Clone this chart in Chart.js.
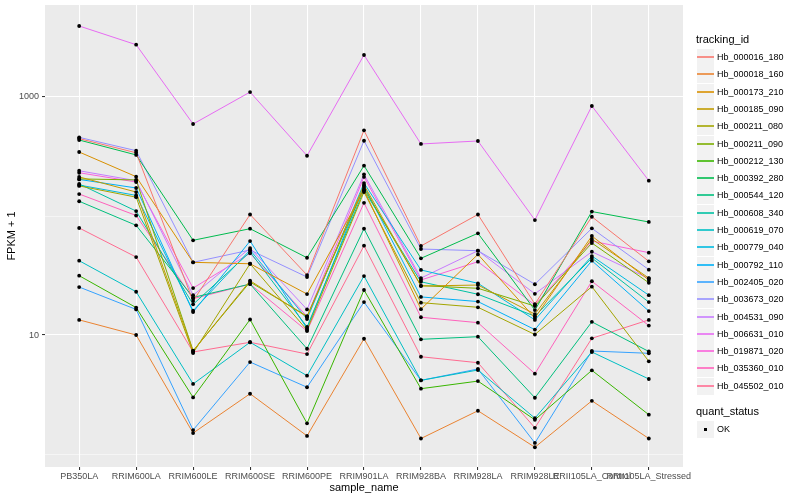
<!DOCTYPE html>
<html><head><meta charset="utf-8">
<script src="https://cdn.jsdelivr.net/npm/chart.js@4"></script>
<style>
html,body{margin:0;padding:0;background:#fff;}
#wrap{position:relative;width:800px;height:500px;font-family:"Liberation Sans",Arial,sans-serif;overflow:hidden;}
#c{position:absolute;left:0;top:0;}
.lt{position:absolute;left:696px;font-size:11px;color:#000;line-height:13px;white-space:nowrap;}
.key{position:absolute;left:697px;width:17px;height:17px;background:#F2F2F2;}
.key i{position:absolute;left:0px;right:0px;top:7px;height:2px;display:block;opacity:0.8;}
.key b{position:absolute;left:7px;top:7px;width:3px;height:3px;background:#000;display:block;}
.lab{position:absolute;left:717px;font-size:9px;color:#000;line-height:17px;height:17px;white-space:nowrap;}
</style>
</head><body>
<div id="wrap"><canvas id="c" width="800" height="500"></canvas><div id="legend"></div></div>
<script>
const categories = ['PB350LA','RRIM600LA','RRIM600LE','RRIM600SE','RRIM600PE','RRIM901LA','RRIM928BA','RRIM928LA','RRIM928LE','RRII105LA_Control','RRII105LA_Stressed'];

const Hb_000016_180 = [447, 340, 19.3, 103, 31.9, 525, 56, 103, 18.2, 98.6, 41.6];
const Hb_000018_160 = [13.4, 10.0, 1.50, 3.21, 1.42, 9.3, 1.35, 2.31, 1.14, 2.80, 1.35];
const Hb_000173_210 = [345, 214, 40.8, 39.7, 22.1, 165, 16.5, 47.6, 13.9, 67.9, 29.0];
const Hb_000185_090 = [213, 159, 7.34, 28.6, 14.2, 182, 25.8, 26.3, 15.0, 64.1, 30.1];
const Hb_000211_080 = [179, 144, 7.06, 39.7, 11.0, 159, 18.7, 17.1, 10.1, 25.5, 6.01];
const Hb_000211_090 = [205, 201, 7.38, 27.9, 14.4, 172, 26.0, 24.7, 17.5, 59.3, 27.5];
const Hb_000212_130 = [31.5, 17.0, 2.99, 13.5, 1.81, 23.9, 3.54, 4.10, 1.94, 5.05, 2.14];
const Hb_000392_280 = [435, 326, 62.5, 78.2, 44.6, 265, 44.1, 71.6, 16.2, 109, 89.1];
const Hb_000544_120 = [133, 83.5, 20.7, 26.8, 7.67, 78.2, 9.20, 9.68, 2.97, 12.9, 7.27];
const Hb_000608_340 = [186, 110, 18.1, 49.8, 11.7, 165, 28.0, 22.0, 14.4, 44.4, 18.9];
const Hb_000619_070 = [42.1, 23.1, 3.88, 8.69, 4.55, 31.3, 4.16, 5.08, 2.0, 7.20, 4.27];
const Hb_000779_040 = [182, 149, 16.0, 51.8, 13.6, 189, 35.2, 27.2, 13.4, 46.1, 21.6];
const Hb_000792_110 = [203, 172, 15.6, 61.6, 11.3, 179, 20.9, 19.1, 11.1, 42.1, 15.9];
const Hb_002405_020 = [25.3, 16.4, 1.59, 5.93, 3.64, 18.9, 4.16, 5.18, 1.24, 7.34, 7.02];
const Hb_003673_020 = [458, 354, 40.8, 51.8, 30.7, 429, 52.8, 51.1, 26.7, 78.8, 35.4];
const Hb_004531_090 = [240, 198, 21.6, 53.8, 16.4, 224, 30.1, 51.1, 22.2, 50.1, 29.9];
const Hb_006631_010 = [3950, 2750, 593, 1100, 321, 2254, 403, 427, 92.5, 840, 198];
const Hb_019871_020 = [231, 193, 24.8, 48.6, 14.3, 213, 29.0, 41.3, 17.9, 61.6, 49.2];
const Hb_035360_010 = [153, 101, 20.2, 26.8, 10.8, 129, 14.1, 12.7, 4.73, 28.3, 12.0];
const Hb_045502_010 = [79.3, 45.2, 7.20, 8.69, 6.92, 56.3, 6.57, 5.85, 1.66, 9.38, 13.4];

const seriesNames = ['Hb_000016_180','Hb_000018_160','Hb_000173_210','Hb_000185_090','Hb_000211_080','Hb_000211_090','Hb_000212_130','Hb_000392_280','Hb_000544_120','Hb_000608_340','Hb_000619_070','Hb_000779_040','Hb_000792_110','Hb_002405_020','Hb_003673_020','Hb_004531_090','Hb_006631_010','Hb_019871_020','Hb_035360_010','Hb_045502_010'];
const seriesValues = [Hb_000016_180,Hb_000018_160,Hb_000173_210,Hb_000185_090,Hb_000211_080,Hb_000211_090,Hb_000212_130,Hb_000392_280,Hb_000544_120,Hb_000608_340,Hb_000619_070,Hb_000779_040,Hb_000792_110,Hb_002405_020,Hb_003673_020,Hb_004531_090,Hb_006631_010,Hb_019871_020,Hb_035360_010,Hb_045502_010];
const seriesColors = ['#F8766D','#EA8331','#D89000','#C09B00','#A3A500','#7CAE00','#39B600','#00BB4E','#00BF7D','#00C1A3','#00BFC4','#00BAE0','#00B0F6','#35A2FF','#9590FF','#C77CFF','#E76BF3','#FA62DB','#FF62BC','#FF6C91'];

const yMajorTicks = [10, 1000];
const yMinorTicks = [1, 100];
const quantStatus = ['OK'];

const FONT = '"Liberation Sans", Arial, sans-serif';

const toPoints = vals => vals.map((v, i) => ({x: i, y: v}));

const lineSets = seriesValues.map((vals, k) => ({
  label: seriesNames[k],
  data: toPoints(vals),
  borderColor: seriesColors[k],
  backgroundColor: seriesColors[k],
  borderWidth: 1,
  pointRadius: 0,
  pointHoverRadius: 0,
  tension: 0,
  fill: false,
  order: 1
}));
const pointSets = seriesValues.map((vals, k) => ({
  label: seriesNames[k] + ' ' + quantStatus[0],
  data: toPoints(vals),
  showLine: false,
  pointRadius: 1.9,
  pointStyle: 'circle',
  pointBackgroundColor: '#000000',
  pointBorderColor: '#000000',
  pointBorderWidth: 0,
  order: 0
}));

const panelBg = {
  id: 'panelBg',
  beforeDraw(chart) {
    const {ctx, chartArea: a} = chart;
    ctx.save();
    ctx.fillStyle = '#EBEBEB';
    ctx.fillRect(a.left, a.top, a.right - a.left, a.bottom - a.top);
    ctx.restore();
  }
};

const allY = yMinorTicks.concat(yMajorTicks).sort((a, b) => a - b);

new Chart(document.getElementById('c'), {
  type: 'line',
  data: { datasets: lineSets.concat(pointSets) },
  plugins: [panelBg],
  options: {
    responsive: false,
    animation: false,
    events: [],
    layout: { padding: { left: 0, right: 117, top: 5, bottom: 0 } },
    plugins: { legend: { display: false }, tooltip: { enabled: false }, title: { display: false } },
    scales: {
      x: {
        type: 'linear',
        min: -0.6,
        max: 10.6,
        afterBuildTicks: s => { s.ticks = categories.map((c, i) => ({ value: i })); },
        afterFit: s => { s.height = 33; s.paddingLeft = 0; s.paddingRight = 0; },
        ticks: {
          callback: v => categories[v] !== undefined ? categories[v] : '',
          autoSkip: false, maxRotation: 0, minRotation: 0,
          color: '#4D4D4D', font: { size: 9, family: FONT }, padding: 1
        },
        grid: { color: '#FFFFFF', lineWidth: 1.07, tickLength: 3, tickColor: '#333333', drawTicks: true },
        border: { display: false },
        title: { display: true, text: 'sample_name', color: '#000000', font: { size: 11, family: FONT }, padding: { top: 0, bottom: 5 } }
      },
      y: {
        type: 'logarithmic',
        min: 0.778,
        max: 5930,
        afterBuildTicks: s => { s.ticks = allY.map(v => ({ value: v })); },
        afterFit: s => { s.width = 45; s.paddingTop = 0; s.paddingBottom = 0; },
        ticks: {
          callback: v => yMajorTicks.includes(v) ? String(v) : '',
          autoSkip: false,
          color: '#4D4D4D', font: { size: 9, family: FONT }, padding: 3
        },
        grid: {
          color: '#FFFFFF',
          lineWidth: ctx => (ctx.tick && yMajorTicks.includes(ctx.tick.value)) ? 1.07 : 0.53,
          tickColor: ctx => (ctx.tick && yMajorTicks.includes(ctx.tick.value)) ? '#333333' : 'rgba(0,0,0,0)',
          tickLength: 3, drawTicks: true
        },
        border: { display: false },
        title: { display: true, text: 'FPKM + 1', color: '#000000', font: { size: 11, family: FONT }, padding: { top: 5, bottom: 0 } }
      }
    }
  }
});

// legend (HTML)
const lg = document.getElementById('legend');
let html = '<div class="lt" style="top:33px">tracking_id</div>';
seriesNames.forEach((n, i) => {
  const top = Math.round(49 + 17.3 * i);
  html += '<div class="key" style="top:' + top + 'px"><i style="background:' + seriesColors[i] + '"></i></div>';
  html += '<div class="lab" style="top:' + top + 'px">' + n + '</div>';
});
html += '<div class="lt" style="top:405px">quant_status</div>';
quantStatus.forEach((q, i) => {
  const top = Math.round(420.5 + 17.3 * i);
  html += '<div class="key" style="top:' + top + 'px"><b></b></div>';
  html += '<div class="lab" style="top:' + top + 'px">' + q + '</div>';
});
lg.innerHTML = html;
</script>
</body></html>
